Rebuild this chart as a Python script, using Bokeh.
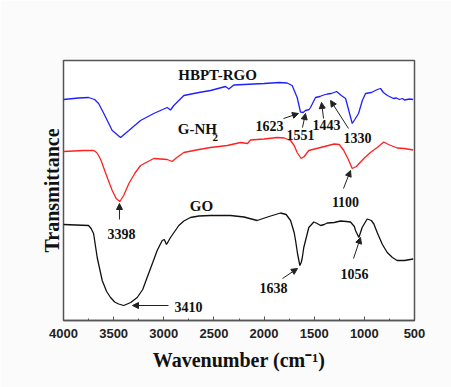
from bokeh.plotting import figure
from bokeh.models import Range1d, Label, Arrow, NormalHead, SingleIntervalTicker, FixedTicker
from bokeh.embed import file_html
from bokeh.resources import INLINE

# ---- data (wavenumber, transmittance in arbitrary offset units) ----
rgo_w = [4000, 3850, 3750, 3690, 3650, 3598, 3514, 3431, 3348, 3232, 3100, 2966, 2933, 2900, 2800,
         2650, 2534, 2384, 2351, 2302, 2200, 2000, 1850, 1770, 1720, 1670, 1637, 1610, 1587, 1551,
         1537, 1487, 1443, 1420, 1370, 1330, 1277, 1230, 1187, 1150, 1121, 1095, 1058, 1020, 988,
         930, 870, 839, 810, 770, 710, 680, 650, 620, 600, 550, 513]
rgo_px = [99, 97.5, 97, 99, 103, 113, 130, 137, 130, 120, 113, 107, 109.5, 105, 95,
          92, 90, 86, 88.5, 84.5, 84, 83, 82, 82.5, 85, 97, 111.5, 112, 110, 109,
          107, 97, 96, 95, 93.5, 93, 91, 95, 98, 112, 123, 119, 113, 100, 93,
          92, 89, 88, 92, 95, 98, 97.5, 99, 98, 99.5, 98.5, 99]
rgo_t = [320 - v for v in rgo_px]

gnh_w = [4000, 3800, 3700, 3670, 3650, 3625, 3600, 3560, 3514, 3475, 3438, 3400, 3348, 3290, 3232,
         3100, 2966, 2916, 2870, 2800, 2650, 2534, 2367, 2235, 2165, 2135, 2000, 1870, 1800, 1736,
         1700, 1670, 1630, 1600, 1554, 1437, 1300, 1250, 1205, 1160, 1121, 1080, 1005, 940, 872,
         806, 760, 673, 600, 513]
gnh_px = [151, 150, 150, 152, 155, 160, 167, 178, 190, 198, 201, 195, 183, 173, 165,
          158, 159, 161, 157, 152, 149, 147, 145, 142, 143, 139.5, 138.5, 137, 137.5, 140,
          145, 152, 158, 156, 150, 147, 143.5, 144, 150, 159, 168, 166, 158, 152, 147,
          141.5, 144, 147.5, 148, 149.5]
gnh_t = [320 - v for v in gnh_px]

go_w = [4000, 3750, 3725, 3700, 3664, 3614, 3570, 3531, 3490, 3450, 3399, 3330, 3265, 3210, 3166,
        3110, 3066, 3016, 2995, 2973, 2933, 2850, 2800, 2734, 2650, 2534, 2335, 2200, 2069, 1950,
        1836, 1780, 1736, 1700, 1686, 1665, 1643, 1630, 1620, 1604, 1554, 1504, 1470, 1437, 1400,
        1370, 1300, 1238, 1180, 1138, 1100, 1088, 1055, 1022, 972, 930, 905, 872, 820, 772,
        720, 673, 600, 513]
go_px = [224, 225, 228, 233, 257, 280, 291, 297, 301.5, 303.5, 305, 302, 297, 289, 277,
         262, 250, 240, 239, 244, 237, 225, 220.5, 217, 215.5, 215, 215, 216.5, 220, 216,
         212.5, 214, 220, 232, 240, 254, 265, 262, 258, 247, 227, 221.5, 223, 225, 224,
         222.5, 222, 220.5, 221, 221.5, 226, 230, 237, 227, 218.5, 220, 223.5, 232, 244, 252,
         257, 260, 260, 258.5]
go_t = [320 - v for v in go_px]

# peak annotations: label, text (w, t), arrow start (w, t), arrow end (w, t)
peak_labels = ["3398", "3410", "1638", "1056", "1100", "1623", "1551", "1443", "1330"]
peak_text_w = [3422, 2754, 1906, 1098, 1188, 1946, 1637, 1377, 1068]
peak_text_t = [87, 14, 33, 47, 119, 195, 186, 196, 183]
arr_w0 = [3442, 2953, 1816, 1108, 1208, 1806, 1617, 1407, 1158]
arr_t0 = [101, 15, 42, 62, 132, 202, 193, 202, 192]
arr_w1 = [3442, 3312, 1667, 1038, 1138, 1657, 1587, 1427, 1337]
arr_t1 = [117, 15, 52, 83, 150, 207, 207, 218, 220]

serif = "Liberation Serif"

p = figure(width=451, height=387, x_range=Range1d(4000, 500), y_range=Range1d(0, 260),
           output_backend="svg", toolbar_location=None,
           min_border_left=63, min_border_right=37, min_border_top=60, min_border_bottom=67)
p.background_fill_color = "white"
p.border_fill_color = "#fbfbfb"
p.outline_line_color = "#555555"
p.outline_line_width = 1.5
p.grid.visible = False

ax = p.xaxis[0]
ax.ticker = SingleIntervalTicker(interval=500, num_minor_ticks=2)
ax.major_tick_in = 4
ax.major_tick_out = 0
ax.minor_tick_in = 2
ax.minor_tick_out = 0
ax.axis_line_color = "#555555"
ax.axis_line_width = 1.5
ax.major_tick_line_color = "#555555"
ax.minor_tick_line_color = "#555555"
ax.major_label_text_font = "Liberation Sans"
ax.major_label_text_font_style = "bold"
ax.major_label_text_font_size = "13px"
ax.major_label_text_color = "#222222"
ax.major_label_standoff = 8
ax.axis_label = "Wavenumber (cm\u207b\u00b9)"
ax.axis_label_text_font = serif
ax.axis_label_text_font_style = "bold"
ax.axis_label_text_font_size = "20px"
ax.axis_label_text_color = "#111111"
ax.axis_label_standoff = 8

ay = p.yaxis[0]
ay.ticker = FixedTicker(ticks=[])
ay.major_tick_out = 0
ay.major_tick_in = 0
ay.minor_tick_out = 0
ay.minor_tick_in = 0
ay.major_label_standoff = 0
ay.axis_line_color = None
ay.axis_label = "Transmittance"
ay.axis_label_text_font = serif
ay.axis_label_text_font_style = "bold"
ay.axis_label_text_font_size = "20px"
ay.axis_label_text_color = "#111111"
ay.axis_label_standoff = 1

p.line(go_w, go_t, line_color="#111111", line_width=1.3)
p.line(gnh_w, gnh_t, line_color="#ff2020", line_width=1.3)
p.line(rgo_w, rgo_t, line_color="#2020ff", line_width=1.3)

def lab(x, y, t, size="14px", align="center"):
    p.add_layout(Label(x=x, y=y, text=t, text_font=serif, text_font_style="bold",
                       text_font_size=size, text_align=align, text_baseline="middle",
                       text_color="#111111"))

for t, x, y in zip(peak_labels, peak_text_w, peak_text_t):
    lab(x, y, t)
for a, b, c, d in zip(arr_w0, arr_t0, arr_w1, arr_t1):
    p.add_layout(Arrow(x_start=a, y_start=b, x_end=c, y_end=d, line_width=1, line_color="#222222",
                       end=NormalHead(size=6, fill_color="#222222", line_color="#222222")))

# series labels
lab(2860, 192, "G-NH", size="15px", align="left")
lab(2515, 183, "2", size="11px", align="left")
lab(2464, 246, "HBPT-RGO", size="15px")
lab(2624, 115, "GO", size="15px")

open("out.html", "w").write(file_html(p, INLINE))
